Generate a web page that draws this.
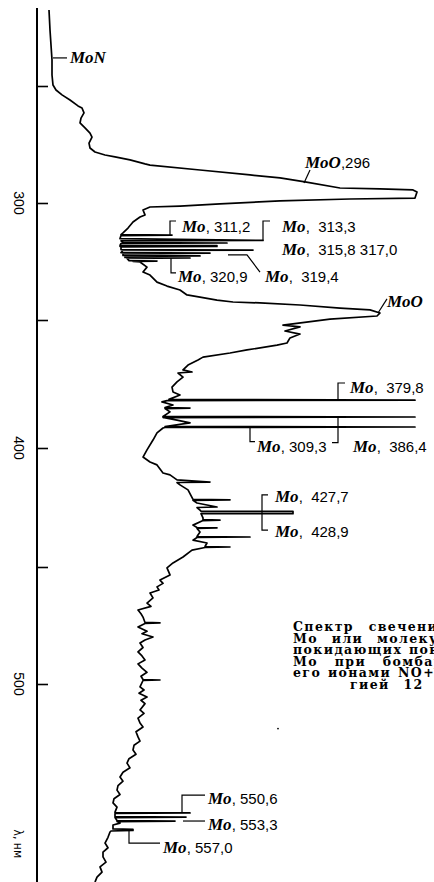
<!DOCTYPE html>
<html>
<head>
<meta charset="utf-8">
<script src="https://cdn.jsdelivr.net/npm/d3@7"></script>
<style>
  body { margin: 0; background: #fff; }
  svg { display: block; }
</style>
</head>
<body>
<div id="chart"></div>
<script>
// wavelength (nm) and relative intensity, top to bottom
const trace = [
  [217.5, 6], [226.1, 6.5], [232.5, 7], [238.9, 7.5], [245.3, 7.5], [249.6, 8],
  [251.7, 9.5], [253.8, 12.5], [256, 16.5], [258.5, 20.5], [259.4, 22.5], [261.5, 23.5],
  [263.7, 22], [265.8, 21.5], [267.9, 24], [270.1, 26.5], [271.8, 27.5], [274.4, 26],
  [276.5, 26.5], [278.2, 29], [279.5, 34], [280.3, 39], [281.6, 46.5], [283.3, 54],
  [283.8, 56.5], [285.9, 81.5], [288, 106.5], [289.3, 121.5], [291, 134], [293.6, 151.5],
  [294, 171.5], [294.4, 188], [295.3, 190], [297.9, 189], [298.3, 156.5], [299.1, 121.5],
  [300.4, 91.5], [301.3, 71.5], [301.7, 56.5], [303, 53], [305.1, 54], [306, 51.5],
  [308.1, 48], [310.7, 45.5], [312.8, 43],
  [313.5, 42], [313.7, 67.5], [313.9, 42], [315.2, 41.5], [316, 113], [316.2, 42],
  [316.9, 43], [317.1, 95], [317.3, 42], [318.1, 41.5], [318.2, 90], [318.5, 41.5],
  [318.6, 90], [318.8, 42], [319.9, 42], [320.1, 108], [320.3, 43], [321.2, 42],
  [321.4, 86.5], [321.6, 43], [322.4, 43], [322.6, 81.5], [322.8, 44], [323.3, 44],
  [323.5, 76.5], [323.7, 45], [324.6, 46], [324.8, 60], [325, 48],
  [325.2, 51.5], [327.4, 55], [329.5, 53], [330.8, 56.5], [333.8, 60], [335.5, 65],
  [337.2, 71.5], [339.3, 75], [340.2, 81.5], [341.5, 90], [342.3, 98], [342.7, 111.5],
  [343.6, 131.5], [344.9, 151.5], [345.7, 166.5], [347, 171.5], [348.3, 170], [349.6, 146.5],
  [352, 123], [352.7, 131.5], [354.3, 124], [355.5, 131.5], [357, 126.5], [359, 125],
  [359.8, 120], [361.7, 105], [362.9, 96.5], [364.5, 83], [365.6, 80.5], [367.6, 75.5],
  [369.5, 73], [370.3, 77.5], [370.7, 70.5], [372.3, 73], [374.2, 70], [376.2, 67.5],
  [378.1, 68], [379.3, 71.5], [381, 66], [381.3, 189], [381.5, 65], [382, 62.5],
  [383.2, 68], [384.2, 64], [384.4, 76.5], [384.6, 64], [385.9, 66.5], [387.7, 63],
  [387.9, 189], [388.1, 63], [389.1, 70], [390.2, 76.5], [391.6, 64], [391.8, 189],
  [392, 64], [392.2, 63], [394.1, 60], [396.9, 58], [400.8, 55], [403.8, 53],
  [405.9, 56.5], [407.1, 60], [410.5, 63], [411.3, 66.5], [413.4, 70], [414.3, 86.5],
  [414.5, 70], [415.5, 71.5], [417.6, 75.5], [421.6, 78], [421.8, 96.5], [422, 78],
  [423.1, 80], [424.8, 90], [425, 80], [426.1, 81.5], [426.6, 82], [426.6, 128],
  [427.6, 128], [427.6, 82], [429.4, 83], [430.1, 83], [430.3, 91.5], [430.5, 83],
  [432.4, 78], [433.4, 80], [433.6, 90], [433.8, 80], [435.3, 81.5], [437.2, 80],
  [437.4, 106.5], [437.6, 80], [438.7, 78], [439.9, 85], [441.4, 84], [441.6, 96.5],
  [441.8, 84], [442.9, 77.5], [445.8, 73], [448.3, 68], [450.4, 65], [453.4, 66.5],
  [455.6, 61.5], [457, 63], [458.5, 60], [459.8, 61], [461.1, 56.5], [463.2, 58],
  [465.4, 55], [466.8, 57], [468.4, 50.5], [470, 52], [471.4, 53], [473.7, 54],
  [473.9, 61.5], [474.1, 54], [475.6, 50.5], [477.5, 55], [478.5, 52.5], [479.9, 58],
  [481.2, 54], [482.5, 51.5], [484.4, 53], [486.3, 50.5], [488, 52.5], [489.7, 54],
  [491.4, 50.5], [493.2, 52.5], [495, 55], [496.7, 52], [498.1, 53], [498.3, 61.5],
  [498.5, 53], [501.1, 51.5], [502.3, 53.5], [503.5, 51], [505, 55], [506.2, 52],
  [507.5, 54], [509.9, 51.5], [511.2, 53.5], [513, 50.5], [514.9, 51.5], [516.4, 53],
  [518.2, 49.5], [520.2, 50.5], [521.8, 51.5], [523.4, 48.5], [525.2, 48], [526.8, 49.5],
  [528.5, 46], [530.2, 45], [532, 46.5], [533.7, 43], [535.5, 41.5], [537.1, 43],
  [538.8, 40.5], [540.5, 40], [542.2, 41.5], [543.8, 38.5], [545.4, 38], [547, 40],
  [548.9, 39], [549.1, 39], [549.2, 76.5], [549.4, 39], [550.6, 39], [550.8, 74.5],
  [551, 39], [552.1, 40], [552.3, 69], [552.5, 40], [553.1, 41.5], [553.8, 38],
  [555.3, 38], [555.5, 48], [555.9, 48], [556.1, 37], [556.5, 36.5], [558.5, 35.5],
  [560.7, 34], [562.5, 35.5], [564.2, 33], [566, 33], [568, 34.5], [569.8, 31.5],
  [571.8, 32.5], [573.7, 30], [575.6, 29]
]

const tickValues = [250, 300, 350, 400, 450, 500]
const tickLabels = [300, 400, 500]
const axisExtent = [216.7, 576]

// each label: name, numbers, text anchor [nm, intensity], leader [[nm, intensity], ...]
const labels = [
  { name: 'MoN', num: '', at: [240.2, 16.5], leader: [[238, 8], [238, 15]] },
  { name: 'MoO', num: ',296', at: [285, 134], leader: [[285.9, 136.5], [291.5, 133.5]] },
  { name: 'Mo', num: ', 311,2', at: [312.4, 72.5], leader: [[307.7, 69.5], [307.7, 66.5], [313.7, 66.5]] },
  { name: 'Mo', num: ',  313,3', at: [312.4, 122.5], leader: [[307.7, 116.5], [307.7, 113], [316, 113]] },
  { name: 'Mo', num: ',  315,8 317,0', at: [322.2, 122.5], leader: [] },
  { name: 'Mo', num: ', 320,9', at: [333.8, 70.5], leader: [[323.5, 67], [329.9, 67], [329.9, 69.5]] },
  { name: 'Mo', num: ',  319,4', at: [333.8, 114], leader: [[322.2, 95.5], [322.2, 105], [329.5, 111.5]] },
  { name: 'MoO', num: '', at: [344.4, 175], leader: [[341, 175], [347, 170.5]] },
  { name: 'Mo', num: ',  379,8', at: [378.5, 156.5], leader: [[374.6, 154], [374.6, 150.5], [381.3, 150.5]] },
  { name: 'Mo', num: ', 309,3', at: [401.7, 110], leader: [[391.8, 106.5], [397.5, 106.5], [397.5, 109]] },
  { name: 'Mo', num: ',  386,4', at: [401.7, 158], leader: [[387.9, 150.5], [397.9, 150.5], [397.9, 147.5]] },
  { name: 'Mo', num: ',  427,7', at: [422.7, 119], leader: [[419.7, 115.5], [419.7, 112.5], [426.9, 112.5]] },
  { name: 'Mo', num: ',  428,9', at: [437.4, 119], leader: [[426.9, 112.5], [434.5, 112.5], [434.5, 115.5]] },
  { name: 'Mo', num: ', 550,6', at: [545.8, 85.5], leader: [[542.4, 84], [542.4, 72.5], [549.2, 72.5]] },
  { name: 'Mo', num: ', 553,3', at: [555.7, 85.5], leader: [[552.3, 73], [552.3, 84]] },
  { name: 'Mo', num: ', 557,0', at: [564.5, 63], leader: [[555.7, 46], [560.7, 46], [560.7, 61.5]] }
]

const caption = [
  'Спектр свечения атомов',
  'Мо или молекул MoO,',
  'покидающих поверхность',
  'Мо при бомбардировке',
  'его ионами NO+ с энер-',
  'гией 12 кэВ'
]
const captionWordGap = [9, 8, 1, 11, 1, 8]

const width = 434
const height = 882

const svg = d3
  .select('#chart')
  .append('svg')
  .attr('width', width)
  .attr('height', height)

const yPositionScale = d3
  .scaleLinear()
  .domain([250, 300, 350, 400, 450, 500, 550])
  .range([86, 203, 320, 448, 567, 684, 815])

const xPositionScale = d3
  .scaleLinear()
  .domain([0, 190])
  .range([37, 417])

// vertical wavelength axis
svg
  .append('line')
  .attr('x1', xPositionScale(0))
  .attr('x2', xPositionScale(0))
  .attr('y1', yPositionScale(axisExtent[0]))
  .attr('y2', yPositionScale(axisExtent[1]))
  .attr('stroke', '#000')
  .attr('stroke-width', 2)

const yAxis = d3
  .axisRight(yPositionScale)
  .tickValues(tickValues)
  .tickSize(11)
  .tickFormat('')

svg
  .append('g')
  .attr('class', 'axis y-axis')
  .attr('transform', 'translate(' + xPositionScale(0) + ',0)')
  .call(yAxis)

svg.select('.y-axis .domain').remove()
svg.selectAll('.y-axis line').attr('stroke', '#000').attr('stroke-width', 1.6)

svg
  .selectAll('.tick-label')
  .data(tickLabels)
  .enter()
  .append('text')
  .attr('class', 'tick-label')
  .attr('transform', d => 'translate(14,' + yPositionScale(d) + ') rotate(90)')
  .attr('text-anchor', 'middle')
  .attr('font-family', 'Liberation Sans Narrow, Liberation Sans, sans-serif')
  .attr('font-size', 14)
  .text(d => d)

svg
  .append('text')
  .attr('transform', 'translate(14,' + yPositionScale(561) + ') rotate(90)')
  .attr('text-anchor', 'middle')
  .attr('font-family', 'DejaVu Sans Condensed, DejaVu Sans, sans-serif')
  .attr('font-size', 12)
  .text('λ, нм')

// the spectrum trace
const line = d3
  .line()
  .x(d => xPositionScale(d[1]))
  .y(d => yPositionScale(d[0]))

svg
  .append('path')
  .datum(trace)
  .attr('d', line)
  .attr('fill', 'none')
  .attr('stroke', '#000')
  .attr('stroke-width', 1.7)
  .attr('stroke-linejoin', 'round')

// leaders and line labels
svg
  .selectAll('.leader')
  .data(labels.filter(d => d.leader.length))
  .enter()
  .append('path')
  .attr('class', 'leader')
  .attr('d', d => line(d.leader))
  .attr('fill', 'none')
  .attr('stroke', '#000')
  .attr('stroke-width', 1.2)

const labelText = svg
  .selectAll('.line-label')
  .data(labels)
  .enter()
  .append('text')
  .attr('class', 'line-label')
  .attr('x', d => xPositionScale(d.at[1]))
  .attr('y', d => yPositionScale(d.at[0]))
  .style('white-space', 'pre')

labelText
  .append('tspan')
  .attr('font-family', 'Liberation Serif, serif')
  .attr('font-style', 'italic')
  .attr('font-weight', 'bold')
  .attr('font-size', 17)
  .text(d => d.name)

labelText
  .append('tspan')
  .attr('font-family', 'Liberation Sans Narrow, Liberation Sans, sans-serif')
  .attr('font-size', 15)
  .text(d => d.num)

// caption, cut by the right edge like the scan
svg
  .selectAll('.caption')
  .data(caption)
  .enter()
  .append('text')
  .attr('class', 'caption')
  .attr('x', (d, i) => (i === caption.length - 1 ? 350 : 293))
  .attr('y', (d, i) => 631 + i * 11.6)
  .attr('font-family', 'DejaVu Serif, serif')
  .attr('font-weight', 'bold')
  .attr('font-size', 12.5)
  .attr('letter-spacing', 1.4)
  .attr('word-spacing', (d, i) => captionWordGap[i])
  .style('white-space', 'pre')
  .text(d => d)

// stray speck on the scan below the caption
svg
  .append('circle')
  .attr('cx', xPositionScale(120.5))
  .attr('cy', yPositionScale(517))
  .attr('r', 0.9)
  .attr('fill', '#000')
</script>
</body>
</html>
